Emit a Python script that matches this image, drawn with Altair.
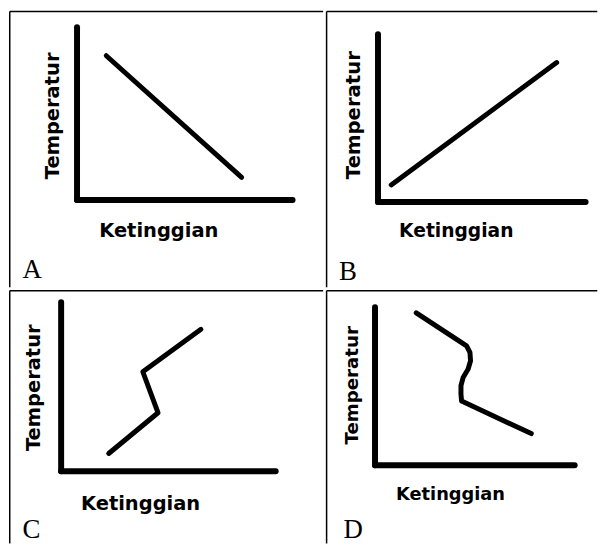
import altair as alt
import pandas as pd

# ---- data (percent of each panel's axis length) ----
LETTERS = ["A", "B", "C", "D"]
X_TITLE = "Ketinggian"
Y_TITLE = "Temperatur"

a_x = [13.8, 76.6]
a_y = [83.2, 12.8]

b_x = [6.6, 86.3]
b_y = [9.9, 82.8]

c_x = [22.4, 45.4, 38.3, 65.4]
c_y = [10.2, 34.3, 58.6, 83.7]

d_x = [20.9, 46.1, 47.8, 48.1, 46.9, 44.4, 43.3, 43.3, 43.6, 78.5]
d_y = [96.2, 75.3, 71.1, 65.8, 60.6, 55.3, 50.1, 44.8, 40.3, 19.7]

SERIES = [(a_x, a_y), (b_x, b_y), (c_x, c_y), (d_x, d_y)]

# ---- layout (pixels, relative to each panel cell) ----
# w,h: cell size; L,R: x-axis extent; T,Bt: y-axis extent
LAYOUT = [
    dict(w=317, h=279, L=68, R=285, T=16, Bt=190,
         yt=(-18.4, 105.3), xt=(150.3, 37.3), lt=(13.7, 269.3)),
    dict(w=274, h=279, L=52, R=261, T=23, Bt=192,
         yt=(-17.8, 104.5), xt=(130.8, 35.3), lt=(13.3, 271.3)),
    dict(w=317, h=256, L=52, R=268, T=12, Bt=182,
         yt=(-20.8, 98), xt=(132, 39), lt=(13.7, 250)),
    dict(w=274, h=256, L=49, R=250, T=17, Bt=176,
         yt=(-17, 95.5), xt=(125, 35.5), lt=(17.7, 249.5)),
]
FS_Y = [19.6, 19.8, 19.6, 18.3]
FS_X = [19.6, 18.8, 19.6, 17.9]

ONE = pd.DataFrame({"k": [0]})


def panel(letter, xs, ys, lay, fsx, fsy):
    df = pd.DataFrame({"ketinggian": xs, "temperatur": ys,
                       "urutan": list(range(len(xs)))})
    common = dict(labels=False, ticks=False, grid=False, domain=True,
                  domainColor="black", domainWidth=6, domainCap="round",
                  titleFont="DejaVu Sans", titleFontWeight="bold",
                  titleColor="black", titleAlign="center",
                  titleBaseline="alphabetic")
    x_axis = alt.Axis(title=X_TITLE, titleX=lay["xt"][0], titleY=lay["xt"][1],
                      titleAngle=0, titleFontSize=fsx,
                      offset=-(lay["h"] - lay["Bt"]), **common)
    y_axis = alt.Axis(title=Y_TITLE, titleX=lay["yt"][0], titleY=lay["yt"][1],
                      titleAngle=270, titleFontSize=fsy,
                      offset=-lay["L"], **common)
    line = alt.Chart(df).mark_line(
        color="black", strokeWidth=5, strokeCap="round", strokeJoin="round"
    ).encode(
        x=alt.X("ketinggian:Q",
                scale=alt.Scale(domain=[0, 100], range=[lay["L"], lay["R"]],
                                nice=False, zero=False),
                axis=x_axis),
        y=alt.Y("temperatur:Q",
                scale=alt.Scale(domain=[0, 100], range=[lay["Bt"], lay["T"]],
                                nice=False, zero=False),
                axis=y_axis),
        order="urutan:Q",
    )
    border_v = alt.Chart(ONE).mark_rule(color="black", strokeWidth=1.5).encode(
        x=alt.value(0.75), y=alt.value(0.75), y2=alt.value(lay["h"] - 0.75))
    border_h = alt.Chart(ONE).mark_rule(color="black", strokeWidth=1.5).encode(
        x=alt.value(0.75), x2=alt.value(lay["w"] - 0.75), y=alt.value(0.75))
    label = alt.Chart(pd.DataFrame({"huruf": [letter]})).mark_text(
        font="Liberation Serif", fontSize=27, align="left", baseline="alphabetic",
        color="black"
    ).encode(text="huruf:N", x=alt.value(lay["lt"][0]), y=alt.value(lay["lt"][1]))
    return alt.layer(border_v, border_h, line, label).properties(
        width=lay["w"], height=lay["h"])


panels = [panel(l, s[0], s[1], lay, fx, fy)
          for l, s, lay, fx, fy in zip(LETTERS, SERIES, LAYOUT, FS_X, FS_Y)]

chart = alt.vconcat(
    alt.hconcat(panels[0], panels[1], spacing=0),
    alt.hconcat(panels[2], panels[3], spacing=0),
    spacing=0,
).properties(padding=0, background="white").configure_view(stroke="transparent")

chart.save("out.html", embed_options={"renderer": "svg", "actions": False})
